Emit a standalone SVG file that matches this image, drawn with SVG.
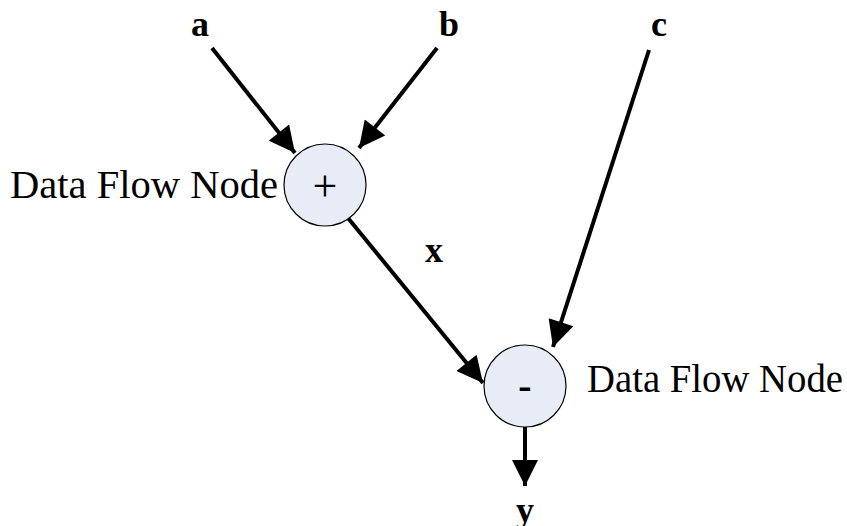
<svg xmlns="http://www.w3.org/2000/svg" width="847" height="526" viewBox="0 0 847 526">
<style>
.lbl{font-family:"Liberation Serif","Times New Roman",serif;font-size:36px;fill:#000}
.big{font-size:40px}
.b{font-weight:bold;text-anchor:middle}
.node circle{fill:#E7ECF6;stroke:#000;stroke-width:1.2}
.conn line{stroke:#000;stroke-width:4;fill:none}
</style>
<defs>
<marker id="ah" viewBox="0 0 10 10" refX="10" refY="5" markerUnits="userSpaceOnUse" markerWidth="28" markerHeight="26" orient="auto">
<path d="M0,0 L10,5 L0,10 Z" fill="#000"/>
</marker>
</defs>
<rect width="847" height="526" fill="#fff"/>
<g id="connectors" class="conn">
<line x1="212" y1="48" x2="295" y2="153" marker-end="url(#ah)"/>
<line x1="437" y1="48" x2="359" y2="148" marker-end="url(#ah)"/>
<line x1="649" y1="50" x2="553" y2="347" marker-end="url(#ah)"/>
<line x1="348" y1="218" x2="483" y2="383" marker-end="url(#ah)"/>
<line x1="525" y1="427" x2="525" y2="486" marker-end="url(#ah)"/>
</g>
<g id="node-plus" class="node">
<circle cx="325" cy="185" r="41"/>
<text class="lbl" style="font-size:44px" x="325" y="201" text-anchor="middle">+</text>
<text class="lbl big" x="278" y="198" text-anchor="end" textLength="268" lengthAdjust="spacingAndGlyphs">Data Flow Node</text>
</g>
<g id="node-minus" class="node">
<circle cx="525" cy="386" r="41"/>
<text class="lbl b big" x="525" y="399">-</text>
<text class="lbl" style="font-size:39px" x="587" y="392" textLength="256" lengthAdjust="spacingAndGlyphs">Data Flow Node</text>
</g>
<g id="labels">
<text class="lbl b" x="200" y="36">a</text>
<text class="lbl b" x="449" y="36">b</text>
<text class="lbl b" x="659" y="36">c</text>
<text class="lbl b" x="434" y="262">x</text>
<text class="lbl b" x="525" y="522">y</text>
</g>
</svg>
